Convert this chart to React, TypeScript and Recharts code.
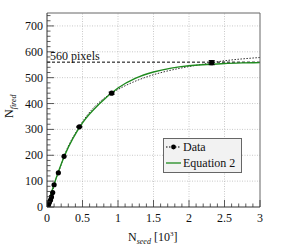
import React from 'react';
import {
  ComposedChart, Line, Scatter, XAxis, YAxis, ReferenceLine, ErrorBar,
} from 'recharts';

// measured points (N_seed in 10^3, N_fired)
const seedValues = [0.014, 0.024, 0.035, 0.05, 0.063, 0.08, 0.1, 0.16, 0.24, 0.455, 0.91, 2.32, 3.0];
const firedValues = [4, 12, 19, 27, 39, 56, 86, 132, 196, 310, 440, 558, 578];
const firedErrors = [0, 0, 0, 0, 0, 0, 0, 0, 0, 2, 4, 8, 0];
const markerShown = [true, true, true, true, true, true, true, true, true, true, true, true, false];

// Equation 2 curve
const curveX = [0, 0.1, 0.25, 0.5, 0.75, 1.0, 1.25, 1.5, 1.75, 2.0, 2.25, 2.5, 2.75, 3.0];
const curveY = [0, 88, 200, 325, 402, 460, 498, 522, 537, 546, 551, 555, 557, 558];

const xMajor = [0, 0.5, 1, 1.5, 2, 2.5, 3];
const yMajor = [0, 100, 200, 300, 400, 500, 600, 700];
const xMinor = Array.from({ length: 31 }, (_, i) => Math.round(i * 10) / 100);
const yMinor = Array.from({ length: 38 }, (_, i) => i * 20);

const refLevel = 560;
const refLabel = '560 pixels';

const W = 283;
const H = 247;
const M = { top: 13, right: 23, left: 7, bottom: 10 };
const Y_W = 40;
const X_H = 30;
const PLOT_LEFT = M.left + Y_W;
const PLOT_BOTTOM = H - M.bottom - X_H;
const FONT = '"Liberation Serif", "DejaVu Serif", serif';

const dataRows = seedValues.map((x, i) => ({
  x, y: firedValues[i], err: firedErrors[i], show: markerShown[i],
}));
const curveRows = curveX.map((x, i) => ({ x, fit: curveY[i] }));

const isMajor = (v: number, list: number[]) => list.some((m) => Math.abs(m - v) < 1e-6);

const YTick = (props: any) => {
  const { y, payload } = props;
  const v = payload.value;
  const major = isMajor(v, yMajor);
  return (
    <g>
      <line x1={PLOT_LEFT} x2={PLOT_LEFT + (major ? 7 : 3.5)} y1={y} y2={y} stroke="#333" strokeWidth={0.8} />
      {major && (
        <text x={PLOT_LEFT - 4} y={y} dy={4} textAnchor="end" fontSize={12} fontFamily={FONT} fill="#111">
          {v}
        </text>
      )}
    </g>
  );
};

const XTick = (props: any) => {
  const { x, payload } = props;
  const v = payload.value;
  const major = isMajor(v, xMajor);
  return (
    <g>
      <line x1={x} x2={x} y1={PLOT_BOTTOM} y2={PLOT_BOTTOM - (major ? 7 : 3.5)} stroke="#333" strokeWidth={0.8} />
      {major && (
        <text x={x} y={PLOT_BOTTOM + 15} textAnchor="middle" fontSize={12} fontFamily={FONT} fill="#111">
          {v}
        </text>
      )}
    </g>
  );
};

const YTitle = () => (
  <text transform="translate(13,118) rotate(-90)" fontSize={12} fontFamily={FONT} fill="#111">
    N<tspan fontSize={8} fontStyle="italic" dy={3}>fired</tspan>
  </text>
);

const XTitle = () => (
  <text x={128} y={241} fontSize={12} fontFamily={FONT} fill="#111">
    N<tspan fontSize={8} fontStyle="italic" dy={3}>seed</tspan>
    <tspan dy={-3}> [10</tspan>
    <tspan fontSize={7} dy={-5}>3</tspan>
    <tspan dy={5}>]</tspan>
  </text>
);

const DataDot = (props: any) => {
  const { cx, cy, payload } = props;
  if (!payload.show) return <g />;
  return <circle cx={cx} cy={cy} r={2.6} fill="#000" />;
};

const LegendBox = () => (
  <div
    style={{
      position: 'absolute', left: 163, top: 138,
      width: 79, height: 35, background: '#f2f2f2', border: '1px solid #666',
      boxSizing: 'border-box',
    }}
  >
    <svg width={77} height={33} style={{ display: 'block' }}>
      <line x1={2} x2={17} y1={8} y2={8} stroke="#000" strokeDasharray="1.5 1.5" />
      <circle cx={9.5} cy={8} r={2.4} fill="#000" />
      <text x={19} y={12} fontSize={12} fontFamily={FONT} fill="#111">Data</text>
      <line x1={2} x2={17} y1={24} y2={24} stroke="#1e8a1e" strokeWidth={1.3} />
      <text x={19} y={28} fontSize={12} fontFamily={FONT} fill="#111">Equation 2</text>
    </svg>
  </div>
);

const App = () => (
  <div style={{ position: 'absolute', left: 0, top: 0, width: W, height: H, background: '#fff' }}>
    <ComposedChart width={W} height={H} margin={M}>
      <XAxis
        type="number" dataKey="x" domain={[0, 3]} ticks={xMinor} interval={0}
        tick={<XTick />} tickLine={false} height={X_H} axisLine={false}
        allowDataOverflow label={<XTitle />}
      />
      <YAxis
        type="number" domain={[0, 750]} ticks={yMinor} interval={0}
        tick={<YTick />} tickLine={false} width={Y_W} axisLine={false}
        allowDataOverflow label={<YTitle />}
      />
      {xMajor.slice(1, -1).map((v) => (
        <ReferenceLine key={'gx' + v} x={v} stroke="#bbb" strokeDasharray="1 1.5" strokeWidth={0.8} />
      ))}
      {yMajor.slice(1).map((v) => (
        <ReferenceLine key={'gy' + v} y={v} stroke="#bbb" strokeDasharray="1 1.5" strokeWidth={0.8} />
      ))}
      <ReferenceLine
        y={refLevel} stroke="#000" strokeDasharray="3 2" strokeWidth={1}
        label={{ value: refLabel, position: 'insideTopLeft', offset: -11, dx: 14, fontSize: 12, fontFamily: FONT, fill: '#111' }}
      />
      <Line
        data={dataRows} dataKey="y" type="monotone" stroke="#333" strokeDasharray="1.5 1.5"
        strokeWidth={1} dot={<DataDot />} activeDot={false} isAnimationActive={false}
      />
      <Line
        data={curveRows} dataKey="fit" type="monotone" stroke="#1e8a1e" strokeWidth={1.4}
        dot={false} activeDot={false} isAnimationActive={false}
      />
      <Scatter data={dataRows.filter((d) => d.show)} dataKey="y" fill="none" shape={() => <g />} isAnimationActive={false}>
        <ErrorBar dataKey="err" width={3} stroke="#000" strokeWidth={1} direction="y" />
      </Scatter>
      <ReferenceLine x={3} stroke="#666" strokeWidth={1} />
      <ReferenceLine y={750} stroke="#666" strokeWidth={1} />
      <ReferenceLine x={0} stroke="#333" strokeWidth={1} />
      <ReferenceLine y={0} stroke="#333" strokeWidth={1} />
    </ComposedChart>
    <LegendBox />
  </div>
);

export default App;
